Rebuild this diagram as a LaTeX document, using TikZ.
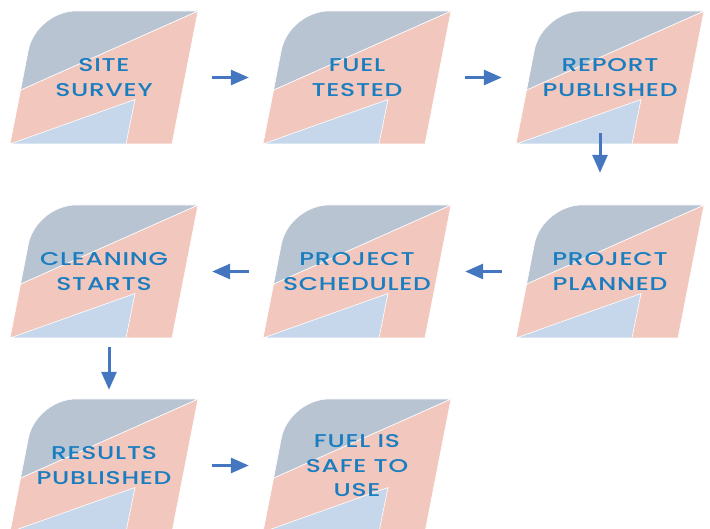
\documentclass[tikz,border=0pt]{standalone}
\usepackage{fontspec}
\newfontfamily\cardfont{Poppins Medium}[FakeStretch=1.35,LetterSpace=4]
\usepackage{tikz}
\usetikzlibrary{arrows.meta}
\usetikzlibrary{backgrounds}

\definecolor{cardgray}{HTML}{B8C4D2}
\definecolor{cardpink}{HTML}{F2C8BE}
\definecolor{cardblue}{HTML}{C6D7EB}
\definecolor{steptext}{HTML}{1A7DC0}
\definecolor{arrowblue}{HTML}{4577C1}

\begin{document}
\begin{tikzpicture}
	[x=1pt, y=-1pt, node distance={253pt},
	main/.style = {minimum width=160pt, minimum height=110pt, inner sep=0pt, text=steptext, align=center,
		font=\cardfont\fontsize{18.5}{24.5}\selectfont, text depth=-5pt},
	flow/.style = {-{Triangle[length=18pt,width=15pt]}, line width=3pt, arrowblue, shorten <=28pt, shorten >=28pt},
	card/.pic = {
		\fill[cardpink, draw=white, line width=0.6pt] (-94,66.5) -- (-83.4,12.5) -- (94,-66.5) -- (68,66.5) -- cycle;
		\fill[cardgray, draw=white, line width=0.6pt] (-83.4,12.5) -- (-75.7,-27.2) .. controls (-71.5,-48.9) and (-50.1,-66.5) .. (-28,-66.5) -- (94,-66.5) -- cycle;
		\fill[cardblue, draw=white, line width=0.6pt] (-94,66.5) -- (31,22) -- (22,66.5) -- cycle;
	}]
	\useasboundingbox (0,0) rectangle (710,529);
	\node[main] (site) at (104,77.5) {SITE\\SURVEY};
	\node[main] (fuel) [right of = site] {FUEL\\TESTED};
	\node[main] (report) [right of = fuel] {REPORT\\PUBLISHED};
	\node[main] (planned) [below of = report, node distance=194pt] {PROJECT\\PLANNED};
	\node[main] (scheduled) [left of = planned] {PROJECT\\SCHEDULED};
	\node[main] (cleaning) [left of = scheduled] {CLEANING\\STARTS};
	\node[main] (results) [below of = cleaning, node distance=194pt] {RESULTS\\PUBLISHED};
	\node[main] (safe) [right of = results] {FUEL IS\\SAFE TO\\USE};
	\begin{scope}[on background layer]
		\foreach \n in {site, fuel, report, planned, scheduled, cleaning, results, safe}
			\pic at (\n) {card};
	\end{scope}
	\draw[flow] (site) -- (fuel);
	\draw[flow] (fuel) -- (report);
	\draw[flow, shorten <=0pt, shorten >=43.5pt] ([xshift=-10pt]report.south) -- ([xshift=-10pt]planned.north);
	\draw[flow] (planned) -- (scheduled);
	\draw[flow] (scheduled) -- (cleaning);
	\draw[flow, shorten <=20.5pt, shorten >=20.5pt] ([xshift=5pt]cleaning.south) -- ([xshift=5pt]results.north);
	\draw[flow] (results) -- (safe);
\end{tikzpicture}
\end{document}
